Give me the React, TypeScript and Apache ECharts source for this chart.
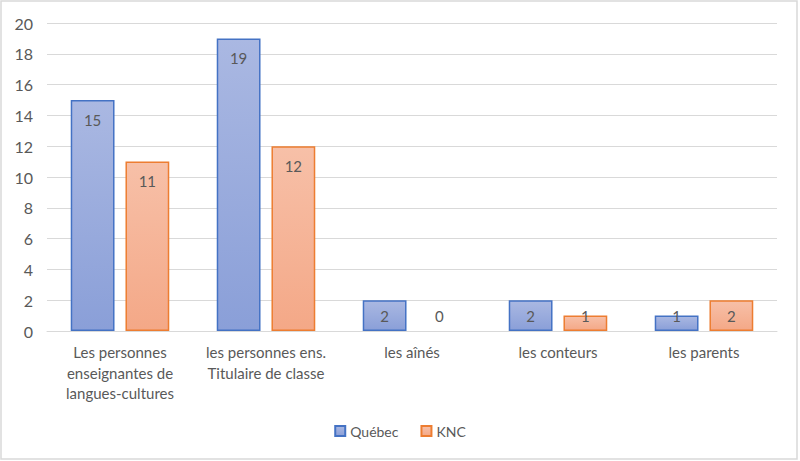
import React, { useEffect, useRef } from "react";
import * as echarts from "echarts";

const categories = [
  "Les personnes\nenseignantes de\nlangues-cultures",
  "les personnes ens.\nTitulaire de classe",
  "les aînés",
  "les conteurs",
  "les parents",
];
const quebecValues = [15, 19, 2, 2, 1];
const kncValues = [11, 12, 0, 1, 2];
const yTicks = { min: 0, max: 20, interval: 2 };

const FONT = "Lato, 'Open Sans', sans-serif";
const TEXT_COLOR = "#595959";

function grad(top: string, bottom: string) {
  return new echarts.graphic.LinearGradient(0, 0, 0, 1, [
    { offset: 0, color: top },
    { offset: 1, color: bottom },
  ]);
}

function buildData(values: number[]) {
  return values.map((v) => ({
    value: v,
    itemStyle: v === 0 ? { borderWidth: 0 } : undefined,
    label:
      v > 2
        ? { position: "insideTop", distance: 12 }
        : { position: "insideBottom", distance: 8 },
  }));
}

export default function App() {
  const ref = useRef<HTMLDivElement>(null);
  useEffect(() => {
    if (!ref.current) return;
    const chart = echarts.init(ref.current, undefined, { renderer: "svg" });
    const labelStyle = {
      show: true,
      color: TEXT_COLOR,
      fontSize: 15,
      fontFamily: FONT,
    };
    chart.setOption({
      animation: false,
      backgroundColor: "#ffffff",
      textStyle: { fontFamily: FONT },
      graphic: [
        {
          type: "rect",
          shape: { x: 1, y: 1, width: 796, height: 458 },
          style: { fill: "none", stroke: "#d9d9d9", lineWidth: 1.5 },
          silent: true,
          z: -1,
        },
      ],
      grid: { left: 47, right: 23, top: 23, bottom: 130, containLabel: false },
      legend: {
        bottom: 18,
        left: "center",
        itemWidth: 10,
        itemHeight: 10,
        itemGap: 22,
        textStyle: { color: TEXT_COLOR, fontSize: 14, fontFamily: FONT },
        data: [
          { name: "Québec", icon: "rect" },
          { name: "KNC", icon: "rect" },
        ],
      },
      xAxis: {
        type: "category",
        data: categories,
        axisLine: { show: true, lineStyle: { color: "#d9d9d9" } },
        axisTick: { show: false },
        axisLabel: {
          color: TEXT_COLOR,
          fontSize: 15,
          fontFamily: FONT,
          lineHeight: 20.5,
          margin: 11,
          interval: 0,
        },
      },
      yAxis: {
        type: "value",
        min: yTicks.min,
        max: yTicks.max,
        interval: yTicks.interval,
        axisLine: { show: false },
        axisTick: { show: false },
        splitLine: { lineStyle: { color: "#d9d9d9", width: 1 } },
        axisLabel: {
          color: TEXT_COLOR,
          fontSize: 16,
          fontFamily: FONT,
          margin: 14,
        },
      },
      series: [
        {
          name: "Québec",
          type: "bar",
          data: buildData(quebecValues),
          barWidth: "30%",
          barGap: "25%",
          itemStyle: {
            color: grad("#aab8e2", "#8a9fd8"),
            borderColor: "#4472c4",
            borderWidth: 1.5,
          },
          label: labelStyle,
        },
        {
          name: "KNC",
          type: "bar",
          data: buildData(kncValues),
          barWidth: "30%",
          itemStyle: {
            color: grad("#f7c0a8", "#f4a887"),
            borderColor: "#ed7d31",
            borderWidth: 1.5,
          },
          label: labelStyle,
        },
      ],
    });
    return () => chart.dispose();
  }, []);
  return (
    <div
      ref={ref}
      style={{ position: "fixed", left: 0, top: 0, width: 800, height: 461 }}
    />
  );
}
